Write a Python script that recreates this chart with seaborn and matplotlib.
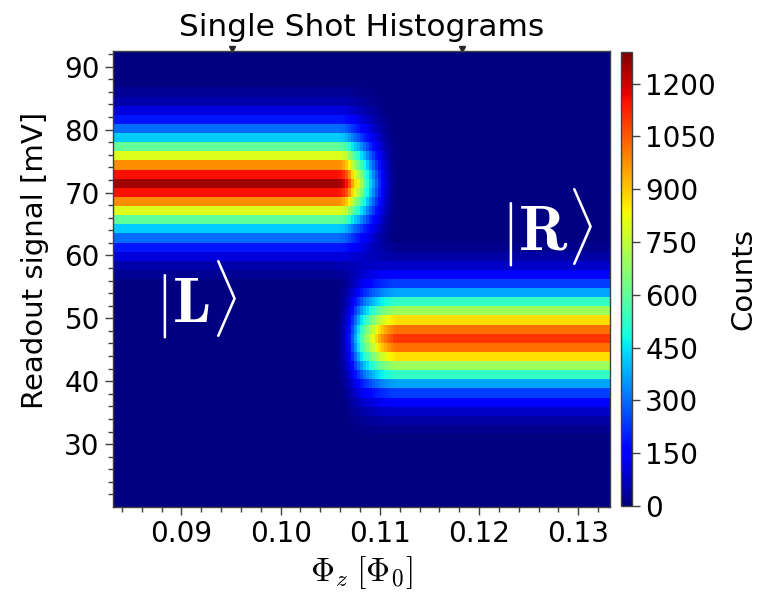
import numpy as np
import pandas as pd
import seaborn as sns
import matplotlib.pyplot as plt

plt.rcParams['font.family'] = ['DejaVu Sans']
plt.rcParams['mathtext.fontset'] = 'cm'

# histogram binning (flux bias x readout signal)
phi_start, phi_step, n_phi = 0.0831, 0.0003, 167
mv_start, mv_step, n_mv = 20.0, 1.45, 50

# counts across each peak, one value per readout bin, peak in the middle
left_profile = [25, 55, 110, 190, 300, 420, 600, 800, 980, 1150, 1250,
                1150, 980, 800, 600, 420, 300, 190, 110, 55, 25]
right_profile = [20, 45, 85, 150, 240, 370, 530, 700, 870, 1020, 1100,
                 1020, 870, 700, 530, 370, 240, 150, 85, 45, 20]
left_peak_bin = 35    # ~71.5 mV
right_peak_bin = 18   # ~46.8 mV

# switching region |L> -> |R>, starting at flux column 74 (0.1055)
switch_first_col = 74
left_fraction = [1.0, 1.0, 0.99, 0.96, 0.92, 0.85, 0.76, 0.69, 0.63, 0.56, 0.49,
                 0.42, 0.35, 0.29, 0.23, 0.18, 0.13, 0.09, 0.06, 0.03, 0.01]
right_fraction = [0.0, 0.01, 0.03, 0.06, 0.11, 0.17, 0.25, 0.34, 0.43, 0.51, 0.58,
                  0.64, 0.70, 0.75, 0.80, 0.85, 0.89, 0.92, 0.95, 0.97, 0.99]

x_major = [0.09, 0.10, 0.11, 0.12, 0.13]
y_major = [30, 40, 50, 60, 70, 80, 90]
cbar_ticks = [0, 150, 300, 450, 600, 750, 900, 1050, 1200]
marker_phi = [0.0951, 0.1183]

# build the 2d histogram
n_sw = len(left_fraction)
n_after = n_phi - switch_first_col - n_sw
w_left = np.r_[np.ones(switch_first_col), left_fraction, np.zeros(n_after)]
w_right = np.r_[np.zeros(switch_first_col), right_fraction, np.ones(n_after)]
half = len(left_profile) // 2
counts = np.zeros((n_mv, n_phi))
counts[left_peak_bin - half:left_peak_bin + half + 1] += np.outer(left_profile, w_left)
counts[right_peak_bin - half:right_peak_bin + half + 1] += np.outer(right_profile, w_right)

phi_centers = phi_start + phi_step * (np.arange(n_phi) + 0.5)
mv_centers = mv_start + mv_step * (np.arange(n_mv) + 0.5)
df = pd.DataFrame(counts[::-1], index=mv_centers[::-1].round(3), columns=phi_centers.round(5))

mv_top = mv_start + n_mv * mv_step

def col(phi):
    return (np.asarray(phi) - phi_start) / phi_step

def row(mv):
    return (mv_top - np.asarray(mv)) / mv_step

fig = plt.figure(figsize=(7.71, 5.96), dpi=100)
ax = fig.add_axes([113 / 771, 89 / 596, 497 / 771, 456 / 596])
cax = fig.add_axes([621 / 771, 90 / 596, 11 / 771, 454 / 596])

sns.heatmap(df, cmap='jet', vmin=0, vmax=1290, ax=ax, cbar_ax=cax,
            xticklabels=False, yticklabels=False,
            cbar_kws={'ticks': cbar_ticks})

frame = '0.25'
for sp in ax.spines.values():
    sp.set_visible(True)
    sp.set_color(frame)
    sp.set_linewidth(1.0)

ax.set_xticks(col(x_major))
ax.set_xticklabels(['%.2f' % v for v in x_major])
ax.set_xticks(col(np.arange(0.084, 0.1331, 0.002)), minor=True)
ax.set_yticks(row(y_major))
ax.set_yticklabels([str(v) for v in y_major])
ax.set_yticks(row(np.arange(22, 93, 2)), minor=True)
ax.tick_params(which='both', direction='out', color=frame, width=1,
               labelsize=20, top=False, right=False)
ax.tick_params(which='major', length=6)
ax.tick_params(which='minor', length=3.5)
ax.tick_params(axis='y', labelrotation=0)

ax.set_xlabel(r'$\Phi_z\;[\Phi_0]$', fontsize=24, labelpad=4)
ax.set_ylabel('Readout signal [mV]', fontsize=21)
ax.yaxis.set_label_coords(-0.128, 0.54)
ax.set_title('Single Shot Histograms', fontsize=22.5, pad=11)

ax.text(col(0.0915), row(52.9), r'$|\mathbf{L}\rangle$', color='white',
        fontsize=46, ha='center', va='center')
ax.text(col(0.1268), row(64.4), r'$|\mathbf{R}\rangle$', color='white',
        fontsize=46, ha='center', va='center')

ax.plot(col(marker_phi), [-0.25] * len(marker_phi), 'v', color='0.15',
        ms=4, clip_on=False)

cbar = ax.collections[0].colorbar
cbar.outline.set_visible(True)
cbar.outline.set_edgecolor(frame)
cbar.outline.set_linewidth(1.0)
cbar.ax.tick_params(labelsize=20, direction='out', length=6, color=frame, width=1)
cbar.set_label('Counts', fontsize=21, labelpad=10)

fig.savefig('out.png', dpi=100)
